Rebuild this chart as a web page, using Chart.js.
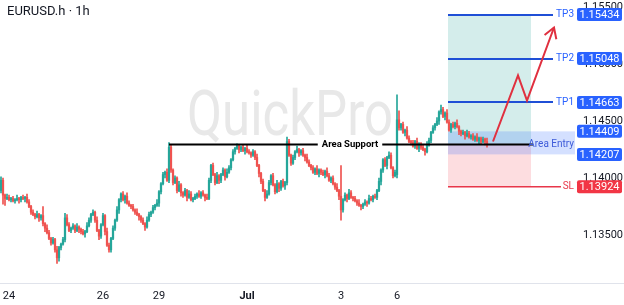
<!DOCTYPE html>
<html>
<head>
<meta charset="utf-8">
<script src="https://cdn.jsdelivr.net/npm/chart.js@4.4.1/dist/chart.umd.min.js"></script>
<style>
  html, body { margin: 0; padding: 0; background: #fff; }
</style>
</head>
<body>
<canvas id="chart" width="624" height="305"></canvas>
<script>
// EURUSD 1h candles (one per hour, index = bar number)
const opens = [
  1.1389, 1.1398, 1.1385, 1.1382, 1.1383, 1.1381, 1.1382, 1.1380, 1.1381, 1.1382,
  1.1381, 1.1383, 1.1382, 1.1383, 1.1379, 1.1375, 1.1370, 1.1368, 1.1366, 1.1368,
  1.1365, 1.1367, 1.1360, 1.1356, 1.1352, 1.1347, 1.1343, 1.1346, 1.1337, 1.1330,
  1.1339, 1.1342, 1.1346, 1.1365, 1.1359, 1.1354, 1.1356, 1.1358, 1.1354, 1.1357,
  1.1355, 1.1353, 1.1351, 1.1353, 1.1358, 1.1363, 1.1368, 1.1370, 1.1363, 1.1354,
  1.1349, 1.1359, 1.1367, 1.1353, 1.1341, 1.1337, 1.1347, 1.1356, 1.1363, 1.1372,
  1.1381, 1.1386, 1.1381, 1.1384, 1.1378, 1.1376, 1.1375, 1.1372, 1.1370, 1.1368,
  1.1366, 1.1363, 1.1360, 1.1357, 1.1363, 1.1368, 1.1370, 1.1374, 1.1376, 1.1378,
  1.1388, 1.1395, 1.1403, 1.1405, 1.1398, 1.1427, 1.1407, 1.1396, 1.1400, 1.1389,
  1.1394, 1.1387, 1.1385, 1.1389, 1.1383, 1.1386, 1.1381, 1.1382, 1.1384, 1.1386,
  1.1384, 1.1387, 1.1385, 1.1383, 1.1382, 1.1398, 1.1411, 1.1403, 1.1396, 1.1402,
  1.1398, 1.1403, 1.1407, 1.1401, 1.1405, 1.1409, 1.1416, 1.1423, 1.1426, 1.1428,
  1.1425, 1.1427, 1.1424, 1.1426, 1.1423, 1.1422, 1.1420, 1.1423, 1.1418, 1.1411,
  1.1404, 1.1397, 1.1389, 1.1383, 1.1386, 1.1396, 1.1402, 1.1394, 1.1388, 1.1395,
  1.1391, 1.1397, 1.1393, 1.1396, 1.1432, 1.1420, 1.1413, 1.1418, 1.1423, 1.1425,
  1.1422, 1.1424, 1.1420, 1.1418, 1.1414, 1.1411, 1.1409, 1.1405, 1.1408, 1.1404,
  1.1407, 1.1405, 1.1403, 1.1406, 1.1402, 1.1398, 1.1400, 1.1395, 1.1392, 1.1389,
  1.1384, 1.1372, 1.1381, 1.1385, 1.1382, 1.1387, 1.1383, 1.1382, 1.1380, 1.1378,
  1.1376, 1.1375, 1.1377, 1.1379, 1.1378, 1.1382, 1.1381, 1.1384, 1.1383, 1.1389,
  1.1397, 1.1407, 1.1416, 1.1411, 1.1418, 1.1420, 1.1409, 1.1402, 1.1403, 1.1451,
  1.1444, 1.1447, 1.1440, 1.1442, 1.1435, 1.1432, 1.1431, 1.1428, 1.1432, 1.1426,
  1.1430, 1.1427, 1.1425, 1.1423, 1.1429, 1.1433, 1.1440, 1.1444, 1.1447, 1.1450,
  1.1458, 1.1460, 1.1454, 1.1457, 1.1449, 1.1442, 1.1447, 1.1445, 1.1448, 1.1445,
  1.1441, 1.1439, 1.1440, 1.1437, 1.1439, 1.1436, 1.1437, 1.1434, 1.1436, 1.1433,
  1.1435, 1.1432, 1.1434, 1.1432
]
const highs = [
  1.1401, 1.1400, 1.1386, 1.1386, 1.1385, 1.1383, 1.1384, 1.1382, 1.1385, 1.1383,
  1.1384, 1.1385, 1.1384, 1.1386, 1.1381, 1.1376, 1.1372, 1.1369, 1.1371, 1.1369,
  1.1368, 1.1375, 1.1361, 1.1359, 1.1354, 1.1348, 1.1348, 1.1347, 1.1340, 1.1340,
  1.1343, 1.1348, 1.1369, 1.1368, 1.1361, 1.1357, 1.1360, 1.1359, 1.1360, 1.1358,
  1.1356, 1.1355, 1.1354, 1.1361, 1.1365, 1.1369, 1.1372, 1.1371, 1.1366, 1.1355,
  1.1360, 1.1369, 1.1368, 1.1356, 1.1343, 1.1348, 1.1358, 1.1364, 1.1375, 1.1382,
  1.1387, 1.1388, 1.1385, 1.1387, 1.1380, 1.1377, 1.1377, 1.1373, 1.1373, 1.1369,
  1.1367, 1.1365, 1.1361, 1.1366, 1.1370, 1.1371, 1.1376, 1.1377, 1.1381, 1.1389,
  1.1396, 1.1405, 1.1406, 1.1408, 1.1431, 1.1429, 1.1408, 1.1402, 1.1401, 1.1397,
  1.1395, 1.1388, 1.1391, 1.1390, 1.1389, 1.1388, 1.1383, 1.1386, 1.1387, 1.1389,
  1.1388, 1.1389, 1.1386, 1.1386, 1.1400, 1.1412, 1.1413, 1.1404, 1.1405, 1.1403,
  1.1404, 1.1409, 1.1408, 1.1408, 1.1411, 1.1417, 1.1425, 1.1427, 1.1430, 1.1429,
  1.1428, 1.1429, 1.1427, 1.1429, 1.1425, 1.1423, 1.1425, 1.1424, 1.1421, 1.1412,
  1.1405, 1.1399, 1.1390, 1.1389, 1.1398, 1.1403, 1.1404, 1.1395, 1.1398, 1.1396,
  1.1398, 1.1399, 1.1397, 1.1436, 1.1434, 1.1421, 1.1420, 1.1424, 1.1428, 1.1426,
  1.1425, 1.1426, 1.1421, 1.1421, 1.1416, 1.1412, 1.1411, 1.1409, 1.1411, 1.1408,
  1.1408, 1.1407, 1.1407, 1.1409, 1.1404, 1.1401, 1.1402, 1.1396, 1.1395, 1.1390,
  1.1411, 1.1382, 1.1387, 1.1386, 1.1390, 1.1389, 1.1384, 1.1384, 1.1381, 1.1381,
  1.1377, 1.1378, 1.1381, 1.1380, 1.1385, 1.1384, 1.1385, 1.1386, 1.1390, 1.1400,
  1.1408, 1.1417, 1.1418, 1.1419, 1.1423, 1.1422, 1.1410, 1.1407, 1.1473, 1.1459,
  1.1448, 1.1449, 1.1443, 1.1445, 1.1437, 1.1433, 1.1433, 1.1433, 1.1435, 1.1431,
  1.1431, 1.1429, 1.1426, 1.1432, 1.1435, 1.1441, 1.1446, 1.1448, 1.1453, 1.1459,
  1.1464, 1.1462, 1.1458, 1.1460, 1.1451, 1.1448, 1.1449, 1.1449, 1.1451, 1.1446,
  1.1442, 1.1442, 1.1441, 1.1442, 1.1441, 1.1438, 1.1439, 1.1437, 1.1439, 1.1436,
  1.1436, 1.1436, 1.1435, 1.1435
]
const lows = [
  1.1387, 1.1377, 1.1376, 1.1381, 1.1380, 1.1379, 1.1379, 1.1378, 1.1380, 1.1378,
  1.1379, 1.1381, 1.1379, 1.1378, 1.1374, 1.1368, 1.1367, 1.1364, 1.1365, 1.1362,
  1.1363, 1.1358, 1.1353, 1.1351, 1.1346, 1.1341, 1.1342, 1.1335, 1.1325, 1.1327,
  1.1337, 1.1341, 1.1344, 1.1358, 1.1353, 1.1352, 1.1355, 1.1352, 1.1353, 1.1352,
  1.1351, 1.1350, 1.1348, 1.1352, 1.1357, 1.1361, 1.1367, 1.1361, 1.1353, 1.1346,
  1.1347, 1.1358, 1.1350, 1.1340, 1.1335, 1.1335, 1.1346, 1.1354, 1.1362, 1.1369,
  1.1379, 1.1380, 1.1378, 1.1377, 1.1375, 1.1373, 1.1371, 1.1368, 1.1367, 1.1363,
  1.1361, 1.1359, 1.1354, 1.1356, 1.1362, 1.1366, 1.1369, 1.1372, 1.1375, 1.1375,
  1.1386, 1.1394, 1.1400, 1.1397, 1.1396, 1.1405, 1.1394, 1.1395, 1.1387, 1.1388,
  1.1384, 1.1383, 1.1384, 1.1380, 1.1382, 1.1380, 1.1379, 1.1381, 1.1382, 1.1383,
  1.1382, 1.1384, 1.1380, 1.1381, 1.1381, 1.1396, 1.1402, 1.1394, 1.1395, 1.1395,
  1.1396, 1.1402, 1.1398, 1.1400, 1.1404, 1.1407, 1.1415, 1.1421, 1.1425, 1.1422,
  1.1423, 1.1423, 1.1421, 1.1422, 1.1421, 1.1418, 1.1419, 1.1416, 1.1410, 1.1401,
  1.1395, 1.1388, 1.1380, 1.1382, 1.1385, 1.1394, 1.1393, 1.1386, 1.1387, 1.1388,
  1.1389, 1.1392, 1.1390, 1.1394, 1.1419, 1.1411, 1.1412, 1.1416, 1.1422, 1.1419,
  1.1420, 1.1419, 1.1415, 1.1413, 1.1410, 1.1407, 1.1404, 1.1403, 1.1403, 1.1401,
  1.1403, 1.1402, 1.1400, 1.1401, 1.1397, 1.1396, 1.1394, 1.1390, 1.1388, 1.1381,
  1.1363, 1.1370, 1.1380, 1.1379, 1.1381, 1.1382, 1.1380, 1.1379, 1.1376, 1.1375,
  1.1372, 1.1373, 1.1376, 1.1375, 1.1377, 1.1380, 1.1379, 1.1382, 1.1381, 1.1388,
  1.1394, 1.1405, 1.1410, 1.1408, 1.1417, 1.1408, 1.1400, 1.1401, 1.1400, 1.1442,
  1.1442, 1.1439, 1.1437, 1.1434, 1.1431, 1.1429, 1.1427, 1.1426, 1.1425, 1.1423,
  1.1425, 1.1424, 1.1420, 1.1422, 1.1428, 1.1431, 1.1439, 1.1442, 1.1446, 1.1447,
  1.1456, 1.1453, 1.1451, 1.1448, 1.1441, 1.1440, 1.1444, 1.1443, 1.1444, 1.1438,
  1.1437, 1.1438, 1.1434, 1.1436, 1.1435, 1.1434, 1.1433, 1.1432, 1.1432, 1.1430,
  1.1430, 1.1431, 1.1429, 1.1427
]
const closes = [
  1.1398, 1.1385, 1.1382, 1.1383, 1.1381, 1.1382, 1.1380, 1.1381, 1.1382, 1.1381,
  1.1383, 1.1382, 1.1383, 1.1379, 1.1375, 1.1370, 1.1368, 1.1366, 1.1368, 1.1365,
  1.1367, 1.1360, 1.1356, 1.1352, 1.1347, 1.1343, 1.1346, 1.1337, 1.1330, 1.1339,
  1.1342, 1.1346, 1.1365, 1.1359, 1.1354, 1.1356, 1.1358, 1.1354, 1.1357, 1.1355,
  1.1353, 1.1351, 1.1353, 1.1358, 1.1363, 1.1368, 1.1370, 1.1363, 1.1354, 1.1349,
  1.1359, 1.1367, 1.1353, 1.1341, 1.1337, 1.1347, 1.1356, 1.1363, 1.1372, 1.1381,
  1.1386, 1.1381, 1.1384, 1.1378, 1.1376, 1.1375, 1.1372, 1.1370, 1.1368, 1.1366,
  1.1363, 1.1360, 1.1357, 1.1363, 1.1368, 1.1370, 1.1374, 1.1376, 1.1378, 1.1388,
  1.1395, 1.1403, 1.1405, 1.1398, 1.1427, 1.1407, 1.1396, 1.1400, 1.1389, 1.1394,
  1.1387, 1.1385, 1.1389, 1.1383, 1.1386, 1.1381, 1.1382, 1.1384, 1.1386, 1.1384,
  1.1387, 1.1385, 1.1383, 1.1382, 1.1398, 1.1411, 1.1403, 1.1396, 1.1402, 1.1398,
  1.1403, 1.1407, 1.1401, 1.1405, 1.1409, 1.1416, 1.1423, 1.1426, 1.1428, 1.1425,
  1.1427, 1.1424, 1.1426, 1.1423, 1.1422, 1.1420, 1.1423, 1.1418, 1.1411, 1.1404,
  1.1397, 1.1389, 1.1383, 1.1386, 1.1396, 1.1402, 1.1394, 1.1388, 1.1395, 1.1391,
  1.1397, 1.1393, 1.1396, 1.1432, 1.1420, 1.1413, 1.1418, 1.1423, 1.1425, 1.1422,
  1.1424, 1.1420, 1.1418, 1.1414, 1.1411, 1.1409, 1.1405, 1.1408, 1.1404, 1.1407,
  1.1405, 1.1403, 1.1406, 1.1402, 1.1398, 1.1400, 1.1395, 1.1392, 1.1389, 1.1384,
  1.1372, 1.1381, 1.1385, 1.1382, 1.1387, 1.1383, 1.1382, 1.1380, 1.1378, 1.1376,
  1.1375, 1.1377, 1.1379, 1.1378, 1.1382, 1.1381, 1.1384, 1.1383, 1.1389, 1.1397,
  1.1407, 1.1416, 1.1411, 1.1418, 1.1420, 1.1409, 1.1402, 1.1405, 1.1451, 1.1444,
  1.1447, 1.1440, 1.1442, 1.1435, 1.1432, 1.1431, 1.1428, 1.1432, 1.1426, 1.1430,
  1.1427, 1.1425, 1.1423, 1.1429, 1.1433, 1.1440, 1.1444, 1.1447, 1.1450, 1.1458,
  1.1460, 1.1454, 1.1457, 1.1449, 1.1442, 1.1447, 1.1445, 1.1448, 1.1445, 1.1441,
  1.1439, 1.1440, 1.1437, 1.1439, 1.1436, 1.1437, 1.1434, 1.1436, 1.1433, 1.1435,
  1.1432, 1.1434, 1.1432, 1.1429
]

// day labels on the time axis and the bar they sit on
const dayLabels = ['24', '26', '29', 'Jul', '3', '6']
const dayIndex = [4, 51, 79, 123, 170, 198]

// trade setup levels
const tpNames = ['TP3', 'TP2', 'TP1']
const tpPrices = [1.15434, 1.15048, 1.14663]
const entryTop = 1.14409
const entryBottom = 1.14207
const stopLoss = 1.13924
const supportPrice = 1.1430

// projected path (bar index, price)
const pathX = [246, 258.5, 263, 276.5]
const pathY = [1.1432, 1.1490, 1.1468, 1.1532]

const UP = '#26a69a'
const DOWN = '#ef5350'
const candleColor = (c) => closes[c.dataIndex] >= opens[c.dataIndex] ? UP : DOWN

const overlay = {
  id: 'overlay',
  beforeDatasetsDraw(chart) {
    const { ctx, scales: { x, y } } = chart
    const px = (v) => x.getPixelForValue(v)
    const py = (v) => y.getPixelForValue(v)

    // watermark
    ctx.save()
    ctx.font = '400 63px Roboto'
    const w = ctx.measureText('QuickPro').width
    ctx.translate(290, 135)
    ctx.scale(206 / w, 1)
    ctx.fillStyle = '#e8e8e8'
    ctx.textAlign = 'center'
    ctx.textBaseline = 'alphabetic'
    ctx.fillText('QuickPro', 0, 0)
    ctx.restore()

    // profit / loss / entry zones
    const x0 = px(223.5), x1 = px(265), x2 = px(287)
    ctx.save()
    ctx.fillStyle = 'rgba(38,166,154,0.2)'
    ctx.fillRect(x0, py(tpPrices[0]), x1 - x0, py(supportPrice) - py(tpPrices[0]))
    ctx.fillStyle = 'rgba(242,54,69,0.17)'
    ctx.fillRect(x0, py(supportPrice), x1 - x0, py(stopLoss) - py(supportPrice))
    ctx.fillStyle = 'rgba(41,98,255,0.2)'
    ctx.fillRect(x0, py(entryTop), x2 - x0, py(entryBottom) - py(entryTop))
    ctx.restore()
  },
  afterDatasetsDraw(chart) {
    const { ctx, scales: { x, y } } = chart
    const px = (v) => x.getPixelForValue(v)
    const py = (v) => y.getPixelForValue(v)
    ctx.save()

    // support line with its label
    const ys = Math.round(py(supportPrice)) + 0.5
    ctx.strokeStyle = '#000'
    ctx.lineWidth = 2
    ctx.beginPath()
    ctx.moveTo(px(84), ys)
    ctx.lineTo(px(266), ys)
    ctx.stroke()
    ctx.font = 'bold 9.5px Roboto'
    ctx.textAlign = 'center'
    ctx.textBaseline = 'middle'
    const lw = ctx.measureText('Area Support').width
    ctx.fillStyle = '#fff'
    ctx.fillRect(px(174.5) - lw / 2 - 4, ys - 6, lw + 8, 12)
    ctx.fillStyle = '#000'
    ctx.fillText('Area Support', px(174.5), ys)

    // take-profit lines
    ctx.strokeStyle = '#1f4fd6'
    ctx.lineWidth = 2
    tpPrices.forEach((p) => {
      const yy = Math.round(py(p))
      ctx.beginPath()
      ctx.moveTo(px(223.5), yy)
      ctx.lineTo(px(276), yy)
      ctx.stroke()
    })
    // stop loss line
    ctx.strokeStyle = '#e8374a'
    ctx.lineWidth = 1.5
    ctx.beginPath()
    ctx.moveTo(px(223.5), py(stopLoss))
    ctx.lineTo(px(280), py(stopLoss))
    ctx.stroke()

    // side texts
    ctx.font = '10px Roboto'
    ctx.textAlign = 'right'
    ctx.fillStyle = '#2962ff'
    const tx = px(286.5)
    tpNames.forEach((n, i) => ctx.fillText(n, tx, py(tpPrices[i])))
    ctx.fillStyle = '#3d5bd9'
    ctx.fillText('Area Entry', tx, ys)
    ctx.fillStyle = '#e8374a'
    ctx.fillText('SL', tx, py(stopLoss))

    // price boxes on the axis
    const bx = y.left + 46, bw = y.right - 2 - bx
    const boxes = tpPrices.map((p) => [p, '#2962ff'])
      .concat([[entryTop, '#2962ff'], [entryBottom, '#2962ff'], [stopLoss, '#f23645']])
    ctx.font = '11px Roboto'
    ctx.textAlign = 'center'
    boxes.forEach(([p, col]) => {
      const yy = py(p)
      ctx.fillStyle = col
      ctx.beginPath()
      ctx.roundRect(bx, yy - 6.5, bw, 13, 2)
      ctx.fill()
      ctx.fillStyle = '#fff'
      ctx.fillText(p.toFixed(5), bx + bw / 2, yy + 0.5)
    })

    // projected move
    ctx.strokeStyle = '#e0303f'
    ctx.lineWidth = 2
    ctx.lineJoin = 'miter'
    ctx.beginPath()
    pathX.forEach((v, i) => {
      if (i === 0) ctx.moveTo(px(v), py(pathY[i]))
      else ctx.lineTo(px(v), py(pathY[i]))
    })
    ctx.stroke()
    const n = pathX.length
    const tipX = px(pathX[n - 1]), tipY = py(pathY[n - 1])
    const ang = Math.atan2(tipY - py(pathY[n - 2]), tipX - px(pathX[n - 2]))
    ctx.beginPath()
    ctx.moveTo(tipX + 12 * Math.cos(ang + Math.PI - 0.55), tipY + 12 * Math.sin(ang + Math.PI - 0.55))
    ctx.lineTo(tipX, tipY)
    ctx.lineTo(tipX + 12 * Math.cos(ang + Math.PI + 0.55), tipY + 12 * Math.sin(ang + Math.PI + 0.55))
    ctx.stroke()

    ctx.restore()
  },
  afterDraw(chart) {
    const { ctx, chartArea } = chart
    ctx.save()
    // time axis rule across the full width
    ctx.strokeStyle = '#e0e3eb'
    ctx.lineWidth = 1
    ctx.beginPath()
    ctx.moveTo(0, chartArea.bottom + 0.5)
    ctx.lineTo(chart.width, chartArea.bottom + 0.5)
    ctx.stroke()
    // symbol title
    ctx.font = '13px Roboto'
    ctx.fillStyle = '#131722'
    ctx.textAlign = 'left'
    ctx.textBaseline = 'middle'
    ctx.fillText('EURUSD.h \u00b7 1h', 7, 12)
    ctx.restore()
  }
}

new Chart(document.getElementById('chart'), {
  type: 'bar',
  data: {
    datasets: [
      {
        label: 'wick',
        data: lows.map((l, i) => ({ x: i, y: [l, highs[i]] })),
        backgroundColor: candleColor,
        barThickness: 1,
        grouped: false
      },
      {
        label: 'body',
        data: opens.map((o, i) => ({ x: i, y: [o, closes[i]] })),
        backgroundColor: candleColor,
        barThickness: 1.6,
        minBarLength: 1,
        grouped: false
      }
    ]
  },
  options: {
    responsive: false,
    animation: false,
    devicePixelRatio: 1,
    layout: { padding: 0 },
    plugins: { legend: { display: false }, tooltip: { enabled: false } },
    scales: {
      x: {
        type: 'linear',
        min: -0.5,
        max: 265,
        offset: false,
        grid: { display: false, drawTicks: false },
        border: { display: false },
        afterBuildTicks: (s) => { s.ticks = dayIndex.map((v) => ({ value: v })) },
        afterFit: (s) => { s.height = 22; s.paddingLeft = 0; s.paddingRight = 0 },
        ticks: {
          autoSkip: false,
          maxRotation: 0,
          padding: 7,
          color: '#131722',
          font: (c) => ({ family: 'Roboto', size: 11, weight: c.index === 3 ? 'bold' : 'normal' }),
          callback: (v) => dayLabels[dayIndex.indexOf(v)]
        }
      },
      y: {
        position: 'right',
        min: 1.130789,
        max: 1.155614,
        beginAtZero: false,
        grid: { display: false, drawTicks: false },
        border: { display: false },
        afterFit: (s) => { s.width = 93; s.paddingTop = 0; s.paddingBottom = 0 },
        ticks: {
          stepSize: 0.005,
          includeBounds: false,
          padding: 52,
          color: '#131722',
          font: { family: 'Roboto', size: 11 },
          callback: (v) => v.toFixed(5)
        }
      }
    }
  },
  plugins: [overlay]
})
</script>
</body>
</html>
